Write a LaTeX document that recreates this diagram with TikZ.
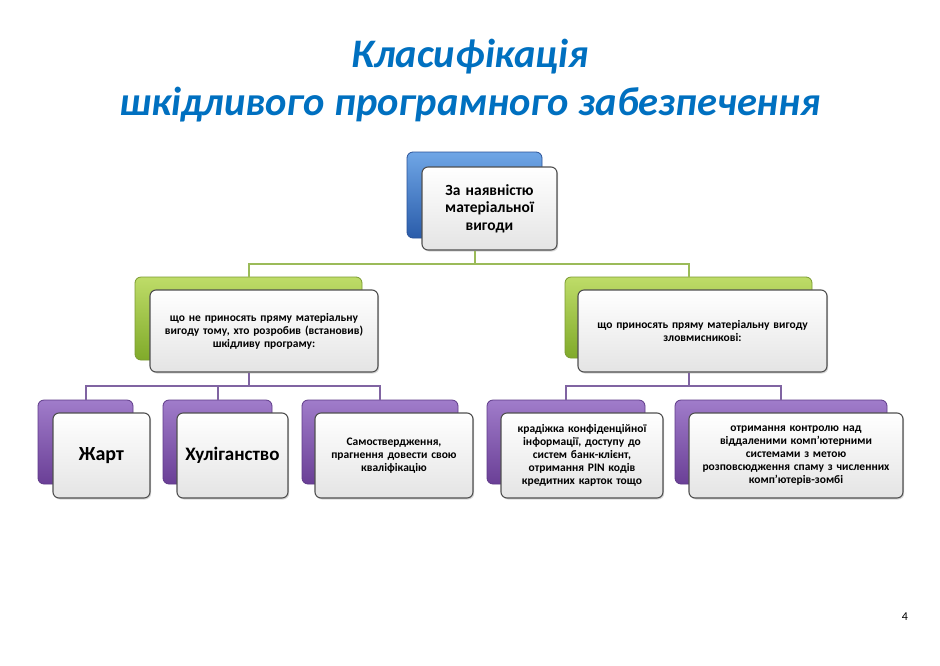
\documentclass[tikz,border=0pt]{standalone}
\usepackage{fontspec}
\setmainfont{Carlito}
\usetikzlibrary{shadows}
\definecolor{titleC}{HTML}{0070C0}
\definecolor{blueT}{HTML}{6FA6E6}
\definecolor{blueB}{HTML}{2A5CAA}
\definecolor{blueD}{HTML}{2A5298}
\definecolor{greenT}{HTML}{BEDC68}
\definecolor{greenB}{HTML}{80AA2A}
\definecolor{greenD}{HTML}{7A9A30}
\definecolor{purpT}{HTML}{A07CCA}
\definecolor{purpB}{HTML}{6A3F96}
\definecolor{purpD}{HTML}{5E3A88}
\definecolor{frameC}{HTML}{505050}
\definecolor{frontB}{HTML}{E4E4E4}
\definecolor{gLineC}{HTML}{9BBB59}
\definecolor{pLineC}{HTML}{8064A2}
\begin{document}
\begin{tikzpicture}[x=1pt,y=-1pt,
  backbox/.style={rectangle, rounded corners=6pt, line width=0.8pt, inner sep=0pt},
  blueback/.style={backbox, draw=blueD, top color=blueT, bottom color=blueB},
  greenback/.style={backbox, draw=greenD, top color=greenT, bottom color=greenB},
  purpback/.style={backbox, draw=purpD, top color=purpT, bottom color=purpB},
  frontbox/.style={rectangle, rounded corners=6pt, draw=frameC, line width=1.1pt,
    top color=white, bottom color=frontB, inner sep=3pt, align=center,
    drop shadow={shadow xshift=1.2pt, shadow yshift=-1.5pt, opacity=0.3}},
  smalltxt/.style={font=\bfseries\fontsize{11.5}{13}\selectfont},
  gline/.style={draw=gLineC, line width=2pt},
  pline/.style={draw=pLineC, line width=2pt},
  titletxt/.style={text=titleC, font=\bfseries\itshape\fontsize{40.5}{44}\selectfont, inner sep=0pt}
]
\useasboundingbox[fill=white] (0,0) rectangle (940,665);

% title
\node[titletxt] (t1) at (470,57) {Класифікація};
\node[titletxt] (t2) at (470,105) {шкідливого програмного забезпечення};

% top
\node[blueback, minimum width=135pt, minimum height=86pt] (topB) at (474.5,195) {};
\node[frontbox, minimum width=135pt, minimum height=83pt, text width=127pt,
  font=\bfseries\fontsize{15.5}{17.5}\selectfont] (topF) at (489.5,208.5) {За наявністю\\матеріальної\\вигоди};

% second level
\node[greenback, minimum width=227pt, minimum height=83pt] (gLB) at (248.5,318.5) {};
\node[frontbox, smalltxt, minimum width=228pt, minimum height=82pt, text width=222pt] (gLF) at (264,331)
  {що не приносять пряму матеріальну\\вигоду тому, хто розробив (встановив)\\шкідливу програму:};
\node[greenback, minimum width=247pt, minimum height=81pt] (gRB) at (688.5,317.5) {};
\node[frontbox, smalltxt, minimum width=249pt, minimum height=82pt, text width=243pt] (gRF) at (702.5,331)
  {що приносять пряму матеріальну вигоду\\зловмисникові:};

% third level
\node[purpback, minimum width=95pt, minimum height=84pt] (c1B) at (85.5,442) {};
\node[frontbox, minimum width=97pt, minimum height=85pt, text width=91pt,
  font=\bfseries\fontsize{20}{24}\selectfont] (c1F) at (101.5,455.5) {Жарт};
\node[purpback, minimum width=109pt, minimum height=84pt] (c2B) at (217.5,442) {};
\node[frontbox, minimum width=109pt, minimum height=85pt, text width=105pt,
  font=\bfseries\fontsize{19}{22}\selectfont] (c2F) at (232.5,455.5) {Хуліганство};
\node[purpback, minimum width=156pt, minimum height=84pt] (c3B) at (380,442) {};
\node[frontbox, smalltxt, minimum width=158pt, minimum height=85pt, text width=152pt] (c3F) at (394,455.5)
  {Самоствердження,\\прагнення довести свою\\кваліфікацію};
\node[purpback, minimum width=158pt, minimum height=84pt] (c4B) at (566,442) {};
\node[frontbox, smalltxt, minimum width=160pt, minimum height=85pt, text width=156pt] (c4F) at (582,455.5)
  {крадіжка конфіденційної\\інформації, доступу до\\систем банк-клієнт,\\отримання PIN кодів\\кредитних карток тощо};
\node[purpback, minimum width=212pt, minimum height=84pt] (c5B) at (781,442) {};
\node[frontbox, smalltxt, minimum width=212pt, minimum height=85pt, text width=208pt] (c5F) at (796,455.5)
  {отримання контролю над\\віддаленими комп'ютерними\\системами з метою\\розповсюдження спаму з численних\\комп'ютерів-зомбі};

% connectors
\coordinate (gJ) at (0,264);
\coordinate (pJ) at (0,386);
\draw[gline] (topB.center |- topF.south) -- (topB.center |- gJ);
\draw[gline] (gLB.north) |- (gRB.north |- gJ) -- (gRB.north);
\draw[pline] (gLB.center |- gLF.south) -- (gLB.center |- pJ);
\draw[pline] (c1B.north) |- (c3B.north |- pJ) -- (c3B.north);
\draw[pline] (c2B.north) -- (c2B.north |- pJ);
\draw[pline] (gRB.center |- gRF.south) -- (gRB.center |- pJ);
\draw[pline] (c4B.north) |- (c5B.north |- pJ) -- (c5B.north);

% page number
\node[font=\fontsize{12}{14}\selectfont, inner sep=0pt] (pg) at (905,617) {4};
\end{tikzpicture}
\end{document}
